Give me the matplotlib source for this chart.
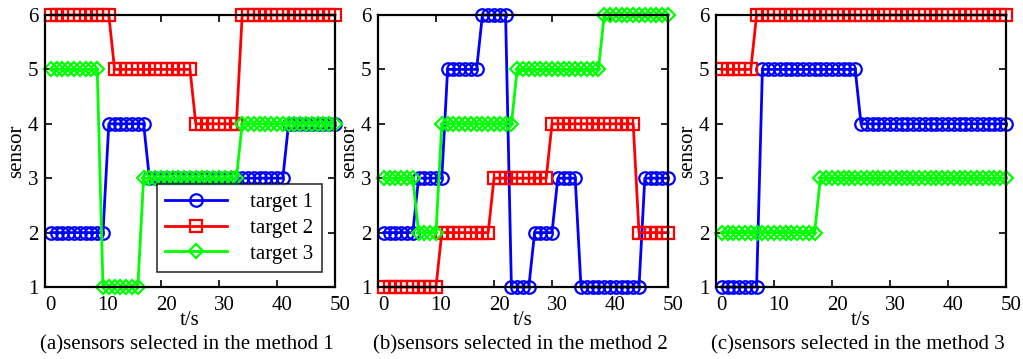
import matplotlib
matplotlib.use("Agg")
import matplotlib.pyplot as plt
from matplotlib.transforms import ScaledTranslation

plt.rcParams['font.family'] = ['Liberation Serif', 'DejaVu Serif']

t = list(range(1, 51))

# method 1
m1_target1 = [2, 2, 2, 2, 2, 2, 2, 2, 2, 2, 4, 4, 4, 4, 4, 4, 4, 3, 3, 3, 3, 3, 3, 3, 3,
              3, 3, 3, 3, 3, 3, 3, 3, 3, 3, 3, 3, 3, 3, 3, 3, 4, 4, 4, 4, 4, 4, 4, 4, 4]
m1_target2 = [6, 6, 6, 6, 6, 6, 6, 6, 6, 6, 6, 5, 5, 5, 5, 5, 5, 5, 5, 5, 5, 5, 5, 5, 5,
              4, 4, 4, 4, 4, 4, 4, 4, 6, 6, 6, 6, 6, 6, 6, 6, 6, 6, 6, 6, 6, 6, 6, 6, 6]
m1_target3 = [5, 5, 5, 5, 5, 5, 5, 5, 5, 1, 1, 1, 1, 1, 1, 1, 3, 3, 3, 3, 3, 3, 3, 3, 3,
              3, 3, 3, 3, 3, 3, 3, 3, 4, 4, 4, 4, 4, 4, 4, 4, 4, 4, 4, 4, 4, 4, 4, 4, 4]
# method 2
m2_target1 = [2, 2, 2, 2, 2, 2, 3, 3, 3, 3, 3, 5, 5, 5, 5, 5, 5, 6, 6, 6, 6, 6, 1, 1, 1,
              1, 2, 2, 2, 2, 3, 3, 3, 3, 1, 1, 1, 1, 1, 1, 1, 1, 1, 1, 1, 3, 3, 3, 3, 3]
m2_target2 = [1, 1, 1, 1, 1, 1, 1, 1, 1, 1, 2, 2, 2, 2, 2, 2, 2, 2, 2, 3, 3, 3, 3, 3, 3,
              3, 3, 3, 3, 4, 4, 4, 4, 4, 4, 4, 4, 4, 4, 4, 4, 4, 4, 4, 2, 2, 2, 2, 2, 2]
m2_target3 = [3, 3, 3, 3, 3, 3, 2, 2, 2, 2, 4, 4, 4, 4, 4, 4, 4, 4, 4, 4, 4, 4, 4, 5, 5,
              5, 5, 5, 5, 5, 5, 5, 5, 5, 5, 5, 5, 5, 6, 6, 6, 6, 6, 6, 6, 6, 6, 6, 6, 6]
# method 3
m3_target1 = [1, 1, 1, 1, 1, 1, 1, 5, 5, 5, 5, 5, 5, 5, 5, 5, 5, 5, 5, 5, 5, 5, 5, 5, 4,
              4, 4, 4, 4, 4, 4, 4, 4, 4, 4, 4, 4, 4, 4, 4, 4, 4, 4, 4, 4, 4, 4, 4, 4, 4]
m3_target2 = [5, 5, 5, 5, 5, 5, 6, 6, 6, 6, 6, 6, 6, 6, 6, 6, 6, 6, 6, 6, 6, 6, 6, 6, 6,
              6, 6, 6, 6, 6, 6, 6, 6, 6, 6, 6, 6, 6, 6, 6, 6, 6, 6, 6, 6, 6, 6, 6, 6, 6]
m3_target3 = [2, 2, 2, 2, 2, 2, 2, 2, 2, 2, 2, 2, 2, 2, 2, 2, 2, 3, 3, 3, 3, 3, 3, 3, 3,
              3, 3, 3, 3, 3, 3, 3, 3, 3, 3, 3, 3, 3, 3, 3, 3, 3, 3, 3, 3, 3, 3, 3, 3, 3]

series_labels = ['target 1', 'target 2', 'target 3']
captions = ['(a)sensors selected in the method 1',
            '(b)sensors selected in the method 2',
            '(c)sensors selected in the method 3']
methods = [(m1_target1, m1_target2, m1_target3),
           (m2_target1, m2_target2, m2_target3),
           (m3_target1, m3_target2, m3_target3)]
xticks = [0, 10, 20, 30, 40, 50]
yticks = [1, 2, 3, 4, 5, 6]

colors = ['#0000ff', '#ff0000', '#00ff00']
markers = ['o', 's', 'D']
msizes = [9.0, 8.5, 7.0]

W, H = 1023, 359
fig = plt.figure(figsize=(W / 100, H / 100), dpi=100)
lefts = [45, 378, 716]
axw = 290
top, bottom = 15, 287

FS = 15
shift = ScaledTranslation(5 / 100, -2 / 100, fig.dpi_scale_trans)
for i, (lft, series) in enumerate(zip(lefts, methods)):
    ax = fig.add_axes([lft / W, 1 - bottom / H, axw / W, (bottom - top) / H])
    handles = []
    for s, c, m, ms, lab in zip(series, colors, markers, msizes, series_labels):
        h, = ax.plot(t, s, color=c, marker=m, markersize=ms, markerfacecolor='none',
                     markeredgecolor=c, markeredgewidth=1.6, linewidth=2.0, label=lab,
                     clip_on=False)
        handles.append(h)
    ax.set_xlim(0, 50)
    ax.set_ylim(1, 6)
    ax.set_xticks(xticks)
    ax.set_yticks(yticks)
    ax.tick_params(direction='in', top=True, right=True, length=5, width=1.2,
                   labelsize=FS, pad=5)
    for tk in ax.xaxis.get_major_ticks():
        tk.label1.set_transform(tk.label1.get_transform() + shift)
    for sp in ax.spines.values():
        sp.set_linewidth(1.6)
    ax.set_xlabel('t/s', fontsize=FS, labelpad=-3)
    ax.set_ylabel('sensor', fontsize=FS, labelpad=1)
    ax.text(0.49, -0.211, captions[i], transform=ax.transAxes, ha='center', va='center',
            fontsize=FS)
    if i == 0:
        leg = ax.legend(handles=handles, loc='lower right', bbox_to_anchor=(0.955, 0.055),
                        fontsize=FS, frameon=True, fancybox=False, edgecolor='black',
                        handlelength=3.0, borderpad=0.4, labelspacing=0.3,
                        handletextpad=1.1, borderaxespad=0)
        leg.get_frame().set_linewidth(1.2)
        leg.set_zorder(5)

fig.savefig('out.png', dpi=100)
